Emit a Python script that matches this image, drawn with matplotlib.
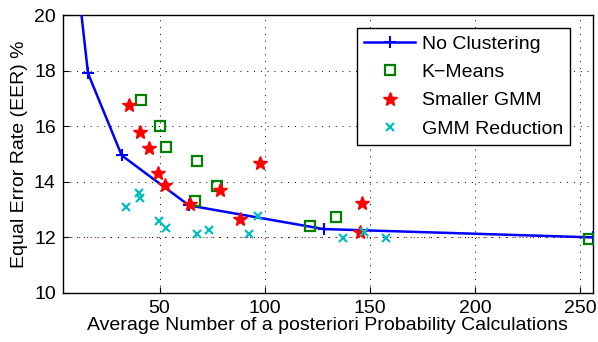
import matplotlib
matplotlib.use("Agg")
import matplotlib.pyplot as plt

plt.rcParams['font.family'] = ['Liberation Sans', 'DejaVu Sans']

# No Clustering
nc_x = [4, 8, 16, 32, 64, 128, 256]
nc_y = [30.0, 23.3, 17.9, 14.95, 13.15, 12.3, 12.0]

# K-Means
km_x = [41.3, 50.4, 52.9, 67.8, 77.3, 67.0, 121.3, 134.0, 254.0]
km_y = [16.94, 16.0, 15.24, 14.76, 13.86, 13.32, 12.41, 12.72, 11.96]

# Smaller GMM
sg_x = [35.6, 40.6, 44.8, 49.3, 52.4, 64.6, 78.9, 97.9, 88.4, 146.2, 145.4]
sg_y = [16.75, 15.79, 15.2, 14.33, 13.88, 13.19, 13.7, 14.69, 12.66, 13.23, 12.2]

# GMM Reduction
gr_x = [34.2, 40.2, 40.9, 49.6, 53.1, 67.8, 73.7, 92.5, 97.0, 137.2, 147.0, 157.6]
gr_y = [13.1, 13.6, 13.43, 12.59, 12.33, 12.12, 12.28, 12.11, 12.78, 11.99, 12.18, 11.97]

ref_level = 12.0

fig = plt.figure(figsize=(5.98, 3.42), dpi=100)
ax = fig.add_axes([0.105, 0.1433, 0.8866, 0.8127])

ax.axhline(ref_level, color='red', linestyle=(0, (1, 6)), linewidth=0.8, zorder=1)
ax.plot(nc_x, nc_y, color='blue', linewidth=1.8, marker='+', markersize=8,
        markeredgewidth=1.5, label='No Clustering', zorder=3)
ax.plot(km_x, km_y, linestyle='none', marker='s', markersize=7, markerfacecolor='none',
        markeredgecolor=(0, 0.5, 0), markeredgewidth=1.6, label='K\u2212Means', zorder=4)
ax.plot(sg_x, sg_y, linestyle='none', marker='*', markersize=10.5, color='red',
        markeredgecolor='red', label='Smaller GMM', zorder=5)
ax.plot(gr_x, gr_y, linestyle='none', marker='x', markersize=5.5, color=(0, 0.75, 0.75),
        markeredgewidth=1.6, label='GMM Reduction', zorder=6)

ax.set_xlim(4, 256)
ax.set_ylim(10, 20)
ax.set_xticks([50, 100, 150, 200, 250])
ax.set_yticks([10, 12, 14, 16, 18, 20])
ax.grid(True, color='black', linestyle=(0, (1, 6)), linewidth=0.7)
ax.tick_params(direction='in', length=4, width=0.8, labelsize=14, top=False, right=False,
               pad=5)
for s in ax.spines.values():
    s.set_linewidth(1.0)

ax.set_xlabel('Average Number of a posteriori Probability Calculations', fontsize=14, labelpad=0)
ax.set_ylabel('Equal Error Rate (EER) %', fontsize=14, labelpad=4)

leg = ax.legend(loc='upper right', bbox_to_anchor=(0.956, 0.952), fontsize=14,
                fancybox=False, framealpha=1, edgecolor='black', borderpad=0.35,
                labelspacing=0.55, handlelength=2.6, handletextpad=0.35,
                borderaxespad=0.0)
leg.get_frame().set_linewidth(1.0)

fig.savefig('out.png', dpi=100)
